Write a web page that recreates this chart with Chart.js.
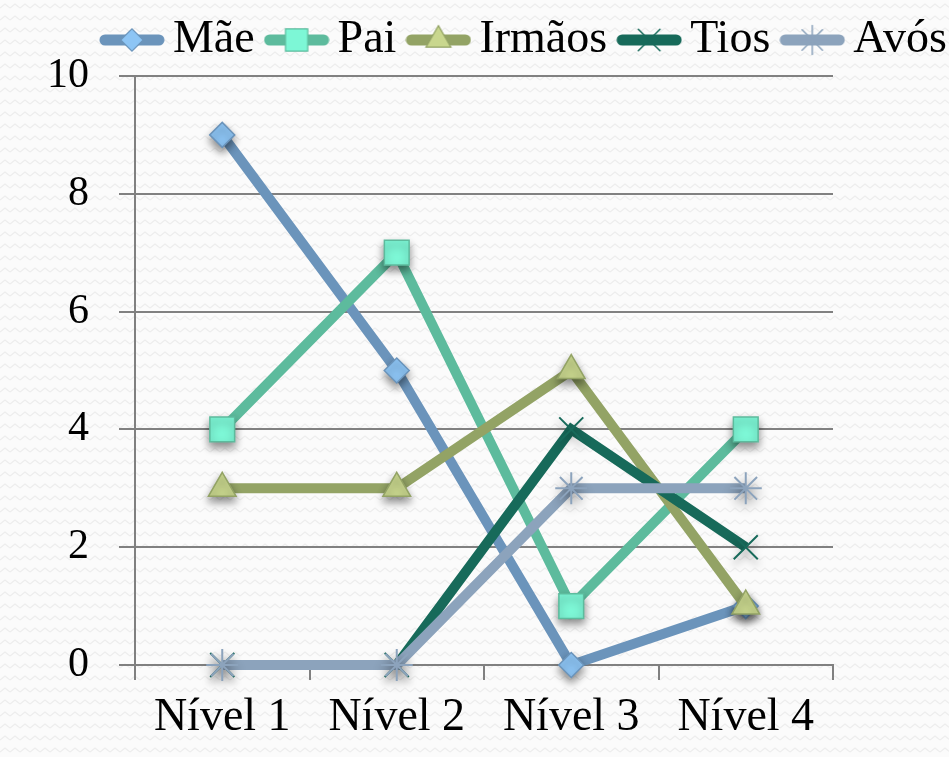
<!DOCTYPE html>
<html>
<head>
<meta charset="utf-8">
<script src="https://cdn.jsdelivr.net/npm/chart.js@4.4.0/dist/chart.umd.min.js"></script>
<style>
  html, body { margin: 0; padding: 0; }
  body {
    background-color: #fbfbfb;
    background-image: url("data:image/svg+xml,%3Csvg xmlns='http://www.w3.org/2000/svg' width='10' height='12'%3E%3Cpath d='M0 8 L5 4 L10 8' fill='none' stroke='%23ededed' stroke-width='1.3'/%3E%3C/svg%3E");
  }
  #wrap { width: 949px; height: 757px; }
</style>
</head>
<body>
<div id="wrap"><canvas id="line-chart" width="949" height="757"></canvas></div>
<script>
const categories = ['Nível 1', 'Nível 2', 'Nível 3', 'Nível 4']
const seriesNames = ['Mãe', 'Pai', 'Irmãos', 'Tios', 'Avós']
const maeValues = [9, 5, 0, 1]
const paiValues = [4, 7, 1, 4]
const irmaosValues = [3, 3, 5, 1]
const tiosValues = [0, 0, 4, 2]
const avosValues = [0, 0, 3, 3]
const yTicks = [0, 2, 4, 6, 8, 10]

const seriesValues = [maeValues, paiValues, irmaosValues, tiosValues, avosValues]
const lineColors = ['#6b94bb', '#5dbb9d', '#93a365', '#176a5a', '#8ca3bc']
const fillColors = ['#8dc5f5', '#7df7d6', '#c9d78e', '#176a5a', '#8ca3bc']
const pointStyles = ['rectRot', 'rect', 'triangle', 'crossRot', 'star']
const pointRadii = [12.5, 17.5, 16, 17, 16]

const fontFamily = '"Liberation Serif", "DejaVu Serif", serif'

// small canvases for the legend: line segment + marker
function legendImage (i) {
  const c = document.createElement('canvas')
  c.width = 66
  c.height = 34
  const ctx = c.getContext('2d')
  ctx.strokeStyle = lineColors[i]
  ctx.lineWidth = 11
  ctx.lineCap = 'round'
  ctx.beginPath()
  ctx.moveTo(6, 17)
  ctx.lineTo(60, 17)
  ctx.stroke()
  ctx.fillStyle = fillColors[i]
  ctx.strokeStyle = i === 3 ? '#176a5a' : lineColors[i]
  ctx.lineWidth = i >= 3 ? 1.5 : 1.2
  Chart.helpers.drawPoint(ctx, {
    pointStyle: pointStyles[i],
    radius: pointRadii[i] * 0.9,
    borderWidth: ctx.lineWidth,
  }, 33, 17)
  return c
}

const datasets = seriesNames.map(function (name, i) {
  return {
    label: name,
    data: seriesValues[i],
    borderColor: lineColors[i],
    backgroundColor: fillColors[i],
    borderWidth: 10,
    pointStyle: pointStyles[i],
    pointRadius: pointRadii[i],
    pointHoverRadius: pointRadii[i],
    pointBackgroundColor: fillColors[i],
    pointBorderColor: lineColors[i],
    pointBorderWidth: i >= 3 ? 2 : 1.5,
    tension: 0,
    fill: false,
    clip: false,
    order: seriesNames.length - i,
  }
})

const legendHeight = {
  id: 'legendHeight',
  beforeInit (chart) {
    const fit = chart.legend.fit
    chart.legend.fit = function () {
      fit.bind(chart.legend)()
      this.height = 83
    }
  },
  afterLayout (chart) {
    chart.legend.right += 22
  },
}

// drop shadow under the markers only
const markerShadow = {
  id: 'markerShadow',
  beforeDatasetDraw (chart, args) {
    args.meta.data.forEach(function (pt) {
      if (pt._shadowed) return
      const draw = pt.draw
      pt.draw = function (ctx, area) {
        ctx.save()
        ctx.shadowColor = 'rgba(0,0,0,0.45)'
        ctx.shadowBlur = 8
        ctx.shadowOffsetY = 5
        draw.call(this, ctx, area)
        ctx.restore()
      }
      pt._shadowed = true
    })
  },
}

const config = {
  type: 'line',
  data: {
    labels: categories,
    datasets: datasets,
  },
  options: {
    responsive: false,
    animation: false,
    layout: {
      padding: { top: -7, left: 0, right: 0, bottom: 0 },
    },
    plugins: {
      legend: {
        display: true,
        position: 'top',
        align: 'end',
        labels: {
          usePointStyle: true,
          pointStyleWidth: 36,
          padding: 24,
          color: '#000',
          font: { family: fontFamily, size: 46 },
          generateLabels (chart) {
            const items = Chart.defaults.plugins.legend.labels.generateLabels(chart)
            items.sort((a, b) => a.datasetIndex - b.datasetIndex)
            items.forEach(function (item) {
              item.pointStyle = legendImage(item.datasetIndex)
            })
            return items
          },
        },
      },
      tooltip: { enabled: false },
    },
    scales: {
      x: {
        type: 'category',
        offset: true,
        grid: {
          offset: true,
          drawOnChartArea: false,
          drawTicks: true,
          tickLength: 15,
          color: '#808080',
          lineWidth: 2,
        },
        border: { display: true, color: '#808080', width: 2 },
        ticks: {
          color: '#000',
          padding: 10,
          font: { family: fontFamily, size: 46 },
          maxRotation: 0,
        },
        afterFit (scale) { scale.height = 92 },
      },
      y: {
        min: 0,
        max: 10,
        afterBuildTicks (scale) {
          scale.ticks = yTicks.map(v => ({ value: v }))
        },
        grid: {
          color: '#808080',
          lineWidth: 2,
          tickLength: 16,
        },
        border: { display: true, color: '#808080', width: 2 },
        ticks: {
          color: '#000',
          padding: 30,
          font: { family: fontFamily, size: 42 },
        },
        afterFit (scale) { scale.width = 135 },
      },
      y2: {
        position: 'right',
        display: true,
        min: 0,
        max: 10,
        grid: { drawOnChartArea: false, drawTicks: false },
        border: { display: false },
        ticks: { display: false },
        afterFit (scale) { scale.width = 116 },
      },
    },
  },
  plugins: [legendHeight, markerShadow],
}

const lineChartCanvas = document.getElementById('line-chart').getContext('2d')
const lineChart = new Chart(lineChartCanvas, config)
</script>
</body>
</html>
